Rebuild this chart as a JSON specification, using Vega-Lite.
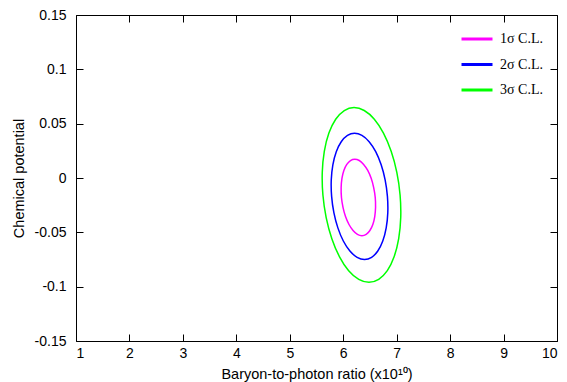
{
  "$schema": "https://vega.github.io/schema/vega-lite/v6.json",
  "width": 481,
  "height": 326,
  "autosize": {"type": "none"},
  "padding": {"left": 76, "top": 15, "right": 10, "bottom": 41},
  "background": "white",
  "config": {
    "view": {"stroke": null},
    "axis": {
      "domainColor": "#000000",
      "domainWidth": 1,
      "tickColor": "#000000",
      "tickWidth": 1,
      "grid": false,
      "labelFont": "Liberation Sans",
      "labelFontSize": 14,
      "labelColor": "#000000",
      "titleFont": "Liberation Sans",
      "titleFontSize": 14.5,
      "titleFontWeight": "normal",
      "titleColor": "#000000"
    }
  },
  "datasets": {
    "contours": [
      {"level": "1σ C.L.", "i": 1, "x": 6.599, "y": -0.0179},
      {"level": "1σ C.L.", "i": 2, "x": 6.605, "y": -0.0270},
      {"level": "1σ C.L.", "i": 3, "x": 6.590, "y": -0.0355},
      {"level": "1σ C.L.", "i": 4, "x": 6.554, "y": -0.0428},
      {"level": "1σ C.L.", "i": 5, "x": 6.499, "y": -0.0483},
      {"level": "1σ C.L.", "i": 6, "x": 6.430, "y": -0.0519},
      {"level": "1σ C.L.", "i": 7, "x": 6.350, "y": -0.0531},
      {"level": "1σ C.L.", "i": 8, "x": 6.266, "y": -0.0519},
      {"level": "1σ C.L.", "i": 9, "x": 6.184, "y": -0.0483},
      {"level": "1σ C.L.", "i": 10, "x": 6.108, "y": -0.0428},
      {"level": "1σ C.L.", "i": 11, "x": 6.043, "y": -0.0355},
      {"level": "1σ C.L.", "i": 12, "x": 5.996, "y": -0.0270},
      {"level": "1σ C.L.", "i": 13, "x": 5.967, "y": -0.0179},
      {"level": "1σ C.L.", "i": 14, "x": 5.961, "y": -0.0088},
      {"level": "1σ C.L.", "i": 15, "x": 5.976, "y": -0.0003},
      {"level": "1σ C.L.", "i": 16, "x": 6.012, "y": 0.0070},
      {"level": "1σ C.L.", "i": 17, "x": 6.067, "y": 0.0125},
      {"level": "1σ C.L.", "i": 18, "x": 6.136, "y": 0.0161},
      {"level": "1σ C.L.", "i": 19, "x": 6.216, "y": 0.0173},
      {"level": "1σ C.L.", "i": 20, "x": 6.300, "y": 0.0161},
      {"level": "1σ C.L.", "i": 21, "x": 6.382, "y": 0.0125},
      {"level": "1σ C.L.", "i": 22, "x": 6.459, "y": 0.0070},
      {"level": "1σ C.L.", "i": 23, "x": 6.523, "y": -0.0003},
      {"level": "1σ C.L.", "i": 24, "x": 6.570, "y": -0.0088},
      {"level": "2σ C.L.", "i": 1, "x": 6.827, "y": -0.0169},
      {"level": "2σ C.L.", "i": 2, "x": 6.834, "y": -0.0319},
      {"level": "2σ C.L.", "i": 3, "x": 6.804, "y": -0.0459},
      {"level": "2σ C.L.", "i": 4, "x": 6.740, "y": -0.0580},
      {"level": "2σ C.L.", "i": 5, "x": 6.647, "y": -0.0672},
      {"level": "2σ C.L.", "i": 6, "x": 6.531, "y": -0.0730},
      {"level": "2σ C.L.", "i": 7, "x": 6.399, "y": -0.0750},
      {"level": "2σ C.L.", "i": 8, "x": 6.260, "y": -0.0730},
      {"level": "2σ C.L.", "i": 9, "x": 6.125, "y": -0.0672},
      {"level": "2σ C.L.", "i": 10, "x": 6.002, "y": -0.0580},
      {"level": "2σ C.L.", "i": 11, "x": 5.900, "y": -0.0459},
      {"level": "2σ C.L.", "i": 12, "x": 5.825, "y": -0.0319},
      {"level": "2σ C.L.", "i": 13, "x": 5.783, "y": -0.0169},
      {"level": "2σ C.L.", "i": 14, "x": 5.776, "y": -0.0019},
      {"level": "2σ C.L.", "i": 15, "x": 5.806, "y": 0.0121},
      {"level": "2σ C.L.", "i": 16, "x": 5.870, "y": 0.0242},
      {"level": "2σ C.L.", "i": 17, "x": 5.963, "y": 0.0334},
      {"level": "2σ C.L.", "i": 18, "x": 6.080, "y": 0.0392},
      {"level": "2σ C.L.", "i": 19, "x": 6.211, "y": 0.0412},
      {"level": "2σ C.L.", "i": 20, "x": 6.350, "y": 0.0392},
      {"level": "2σ C.L.", "i": 21, "x": 6.485, "y": 0.0334},
      {"level": "2σ C.L.", "i": 22, "x": 6.608, "y": 0.0242},
      {"level": "2σ C.L.", "i": 23, "x": 6.710, "y": 0.0121},
      {"level": "2σ C.L.", "i": 24, "x": 6.785, "y": -0.0019},
      {"level": "3σ C.L.", "i": 1, "x": 7.064, "y": -0.0156},
      {"level": "3σ C.L.", "i": 2, "x": 7.076, "y": -0.0364},
      {"level": "3σ C.L.", "i": 3, "x": 7.038, "y": -0.0558},
      {"level": "3σ C.L.", "i": 4, "x": 6.952, "y": -0.0725},
      {"level": "3σ C.L.", "i": 5, "x": 6.825, "y": -0.0853},
      {"level": "3σ C.L.", "i": 6, "x": 6.664, "y": -0.0933},
      {"level": "3σ C.L.", "i": 7, "x": 6.482, "y": -0.0960},
      {"level": "3σ C.L.", "i": 8, "x": 6.291, "y": -0.0933},
      {"level": "3σ C.L.", "i": 9, "x": 6.102, "y": -0.0853},
      {"level": "3σ C.L.", "i": 10, "x": 5.931, "y": -0.0725},
      {"level": "3σ C.L.", "i": 11, "x": 5.787, "y": -0.0558},
      {"level": "3σ C.L.", "i": 12, "x": 5.681, "y": -0.0364},
      {"level": "3σ C.L.", "i": 13, "x": 5.620, "y": -0.0156},
      {"level": "3σ C.L.", "i": 14, "x": 5.608, "y": 0.0052},
      {"level": "3σ C.L.", "i": 15, "x": 5.646, "y": 0.0246},
      {"level": "3σ C.L.", "i": 16, "x": 5.732, "y": 0.0413},
      {"level": "3σ C.L.", "i": 17, "x": 5.859, "y": 0.0541},
      {"level": "3σ C.L.", "i": 18, "x": 6.020, "y": 0.0621},
      {"level": "3σ C.L.", "i": 19, "x": 6.202, "y": 0.0648},
      {"level": "3σ C.L.", "i": 20, "x": 6.393, "y": 0.0621},
      {"level": "3σ C.L.", "i": 21, "x": 6.582, "y": 0.0541},
      {"level": "3σ C.L.", "i": 22, "x": 6.753, "y": 0.0413},
      {"level": "3σ C.L.", "i": 23, "x": 6.897, "y": 0.0246},
      {"level": "3σ C.L.", "i": 24, "x": 7.003, "y": 0.0052}
    ]
  },
  "data": {"name": "contours"},
  "layer": [
    {
      "mark": {"type": "line", "interpolate": "cardinal-closed", "strokeWidth": 1.5},
      "encoding": {
        "x": {
          "field": "x", "type": "quantitative",
          "scale": {"domain": [1, 10], "nice": false, "zero": false},
          "axis": {
            "orient": "bottom",
            "values": [1, 2, 3, 4, 5, 6, 7, 8, 9, 10],
            "tickSize": -7,
            "labelPadding": 12,
            "title": "Baryon-to-photon ratio (x10¹⁰)",
            "titlePadding": 7
          }
        },
        "y": {
          "field": "y", "type": "quantitative",
          "scale": {"domain": [-0.15, 0.15], "nice": false, "zero": false},
          "axis": {
            "orient": "left",
            "values": [-0.15, -0.1, -0.05, 0, 0.05, 0.1, 0.15],
            "labelExpr": "'' + datum.value",
            "tickSize": -7,
            "labelPadding": 17,
            "title": "Chemical potential",
            "titlePadding": 8
          }
        },
        "order": {"field": "i", "type": "quantitative"},
        "color": {
          "field": "level", "type": "nominal",
          "scale": {
            "domain": ["1σ C.L.", "2σ C.L.", "3σ C.L."],
            "range": ["#ff00ff", "#0000ff", "#00ff00"]
          },
          "legend": {
            "title": null,
            "orient": "none",
            "legendX": 384,
            "legendY": 7,
            "symbolType": "stroke",
            "symbolSize": 961,
            "symbolStrokeWidth": 3,
            "labelFont": "Liberation Serif",
            "labelFontSize": 14,
            "labelColor": "#000000",
            "labelOffset": 6,
            "rowPadding": 1.5
          }
        }
      }
    },
    {
      "mark": {"type": "point", "opacity": 0},
      "encoding": {
        "x": {
          "field": "x", "type": "quantitative",
          "scale": {"domain": [1, 10], "nice": false, "zero": false},
          "axis": {
            "orient": "top",
            "values": [1, 2, 3, 4, 5, 6, 7, 8, 9, 10],
            "tickSize": -7,
            "labels": false,
            "title": null
          }
        },
        "y": {
          "field": "y", "type": "quantitative",
          "scale": {"domain": [-0.15, 0.15], "nice": false, "zero": false},
          "axis": {
            "orient": "right",
            "values": [-0.15, -0.1, -0.05, 0, 0.05, 0.1, 0.15],
            "tickSize": -7,
            "labels": false,
            "title": null
          }
        }
      }
    }
  ],
  "resolve": {"axis": {"x": "independent", "y": "independent"}}
}
